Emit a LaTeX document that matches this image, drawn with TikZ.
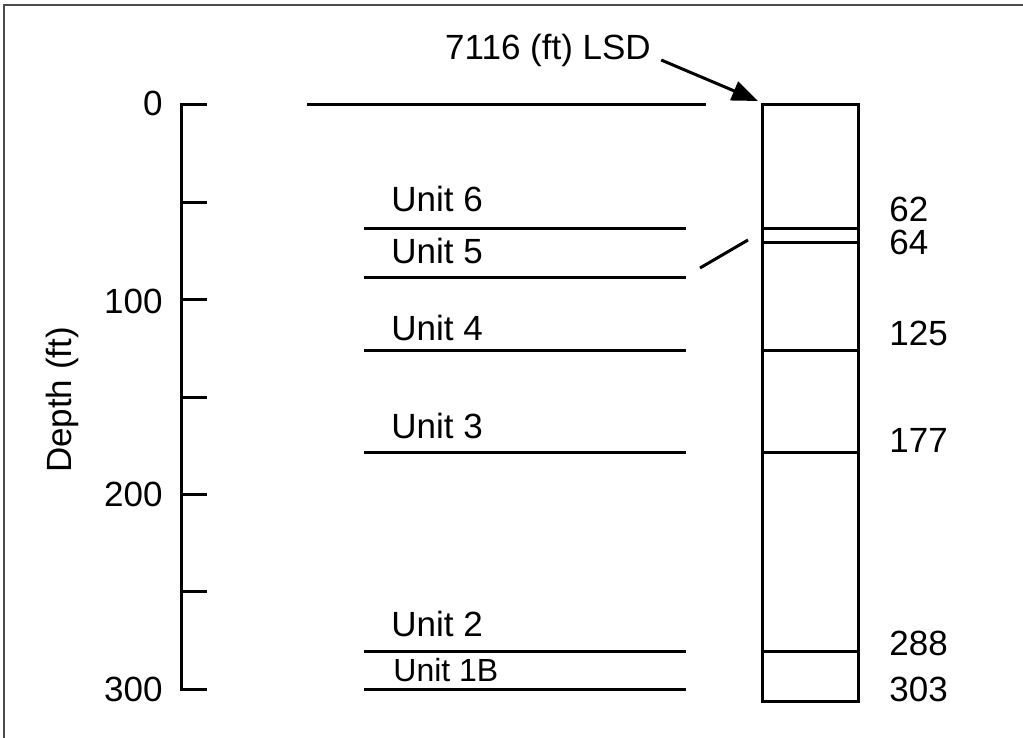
\documentclass[tikz,border=0pt]{standalone}
\usepackage{fontspec}
\setmainfont{Liberation Sans}
\usetikzlibrary{arrows.meta}

\begin{document}
\begin{tikzpicture}[x=0.5pt, y=-0.5pt,
    every node/.style={font=\fontsize{17.5}{20}\selectfont, inner sep=0pt},
    ln/.style={line width=1.5pt},
    unit/.style={anchor=base west},
    tick/.style={anchor=east},
    dep/.style={anchor=west},
    a/.style={-{Triangle[length=13pt, width=10pt]}, line width=1.5pt}
]
\useasboundingbox (0,0) rectangle (1023,738);
\draw[line width=0.9pt, black!70] (4,738) -- (4,5) -- (1023,5);

% depth axis
\draw[ln] (207,105) -- (181,105) -- (181,689) -- (207,689);
\foreach \y in {202,299,397,494,591} \draw[ln] (181,\y) -- (207,\y);
\node[tick] (d0)   at (163,103) {0};
\node[tick] (d100) at (163,301) {100};
\node[tick] (d200) at (163,494) {200};
\node[tick] (d300) at (163,689) {300};
\node[rotate=90] (ax) at (62,400) {Depth (ft)};

% units
\draw[ln] (307,105) -- (706,105);
\foreach \y in {228,277,350,452,651,689} \draw[ln] (364,\y) -- (686,\y);
\node[unit] (u6) at (391,212) {Unit 6};
\node[unit] (u5) at (391,263) {Unit 5};
\node[unit] (u4) at (391,340) {Unit 4};
\node[unit] (u3) at (391,438) {Unit 3};
\node[unit] (u2) at (391,636) {Unit 2};
\node[unit, font=\fontsize{16}{18}\selectfont] (u1b) at (393,681) {Unit 1B};

% well column
\draw[ln] (762,105) rectangle (858,701);
\foreach \y in {228,242,350,452,651} \draw[ln] (762,\y) -- (858,\y);
\draw[ln] (700,268) -- (748,240);
\node[dep] (z62)  at (889,209) {62};
\node[dep] (z64)  at (889,242) {64};
\node[dep] (z125) at (889,333) {125};
\node[dep] (z177) at (889,440) {177};
\node[dep] (z288) at (889,643) {288};
\node[dep] (z303) at (889,689) {303};

\node (lsd) at (548,50) {7116 (ft) LSD};
\coordinate (top) at (758,101);
\draw[a] ([xshift=5pt, yshift=-5pt]lsd.east) -- (top);
\end{tikzpicture}
\end{document}
